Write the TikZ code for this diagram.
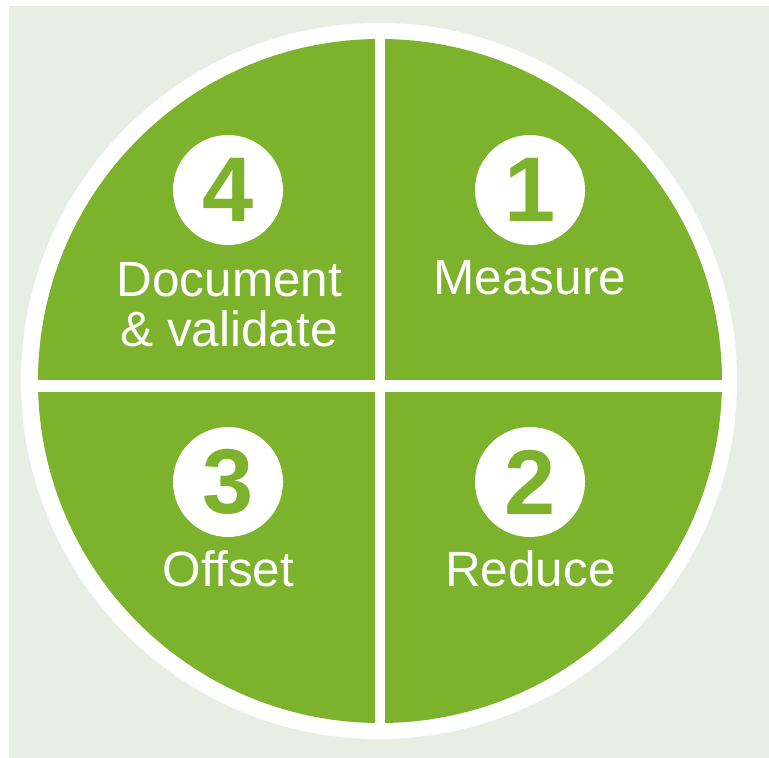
\documentclass[tikz,border=0pt]{standalone}
\usepackage{fontspec}
\setmainfont{Liberation Sans}
\definecolor{leaf}{RGB}{125,178,45}
\definecolor{paper}{RGB}{233,238,229}
\tikzset{
  numcirc/.style={circle, fill=white, minimum size=110pt, inner sep=0pt,
    text=leaf, font=\bfseries\fontsize{92}{92}\selectfont},
  label/.style={anchor=base, inner sep=0pt, text=white, align=center,
    font=\fontsize{49.5}{50}\selectfont},
}
\begin{document}
\begin{tikzpicture}[x=1pt,y=1pt]
  \useasboundingbox (0,0) rectangle (769,758);
  \fill[white] (0,0) rectangle (769,758);
  \fill[paper] (9,0) rectangle (769,752);
  \fill[white] (379,377) circle[radius=358];
  \fill[leaf] (380,377) circle[radius=342];
  \begin{scope}
    \clip (379,377) circle[radius=358];
    \fill[white] (375,0) rectangle (385,758);
    \fill[white] (0,366) rectangle (769,378);
  \end{scope}
  % number circles
  \node[numcirc] (c4) at (228,568) {4};
  \node[numcirc] (c1) at (530,568) {1};
  \node[numcirc] (c3) at (228,276) {3};
  \node[numcirc] (c2) at (530,276) {2};
  % labels
  \node[label] (l4a) at (229.5,461) {Document};
  \node[label] (l4b) at (229,411) {\& validate};
  \node[label] (l1) at (530,463) {Measure};
  \node[label] (l3) at (228.5,171) {Offset};
  \node[label] (l2) at (530.5,171) {Reduce};
\end{tikzpicture}
\end{document}
